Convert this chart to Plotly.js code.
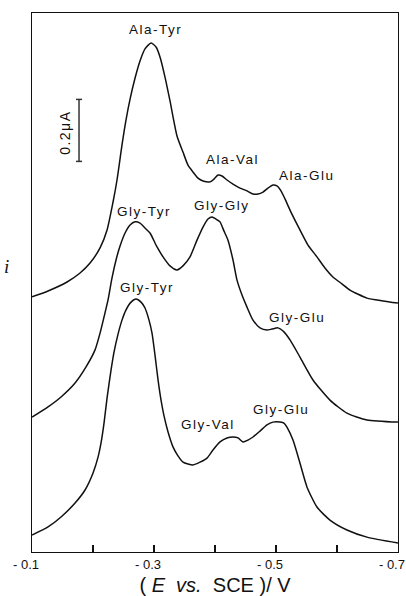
<!DOCTYPE html>
<html>
<head>
<meta charset="utf-8">
<script src="https://cdn.plot.ly/plotly-3.0.1.min.js"></script>
<style>
  html, body { margin: 0; padding: 0; background: #fff; }
  #chart { width: 406px; height: 596px; }
  .annotation-text { letter-spacing: 1.5px; }
</style>
</head>
<body>
<div id="chart"></div>
<script>
// Potential E (V vs. SCE) and current i (μA, curves offset vertically)
const alaE = [-0.1, -0.1262, -0.1574, -0.1787, -0.1951, -0.2115, -0.2230, -0.2328, -0.2393, -0.2475, -0.2541, -0.2607, -0.2689, -0.2770, -0.2852, -0.2951, -0.3033, -0.3098, -0.3180, -0.3262, -0.3377, -0.3475, -0.3557, -0.3639, -0.3721, -0.3803, -0.3918, -0.3984, -0.4049, -0.4115, -0.4197, -0.4295, -0.4410, -0.4525, -0.4623, -0.4705, -0.4787, -0.4869, -0.4951, -0.5016, -0.5082, -0.5148, -0.5230, -0.5393, -0.5525, -0.5672, -0.5803, -0.5934, -0.6082, -0.6213, -0.6492, -0.6754, -0.7];
const alaI = [0.823, 0.842, 0.871, 0.900, 0.932, 0.981, 1.039, 1.129, 1.200, 1.313, 1.394, 1.461, 1.529, 1.584, 1.623, 1.642, 1.629, 1.597, 1.532, 1.455, 1.342, 1.290, 1.248, 1.226, 1.206, 1.197, 1.194, 1.203, 1.216, 1.213, 1.200, 1.187, 1.174, 1.165, 1.155, 1.155, 1.161, 1.174, 1.184, 1.181, 1.165, 1.139, 1.103, 1.039, 0.990, 0.952, 0.916, 0.887, 0.865, 0.845, 0.819, 0.810, 0.803];

const glyE = [-0.1, -0.1262, -0.1475, -0.1705, -0.1885, -0.2033, -0.2115, -0.2180, -0.2246, -0.2311, -0.2377, -0.2443, -0.2525, -0.2607, -0.2689, -0.2770, -0.2852, -0.2934, -0.3049, -0.3148, -0.3262, -0.3377, -0.3475, -0.3590, -0.3705, -0.3803, -0.3885, -0.3951, -0.4016, -0.4082, -0.4148, -0.4213, -0.4295, -0.4361, -0.4443, -0.4525, -0.4623, -0.4738, -0.4852, -0.4934, -0.5033, -0.5131, -0.5230, -0.5393, -0.5607, -0.5885, -0.6164, -0.6492, -0.7];
const glyI = [0.435, 0.468, 0.500, 0.545, 0.597, 0.652, 0.706, 0.758, 0.813, 0.884, 0.942, 0.987, 1.029, 1.055, 1.065, 1.061, 1.045, 1.029, 0.984, 0.952, 0.923, 0.910, 0.923, 0.952, 1.006, 1.048, 1.074, 1.081, 1.074, 1.065, 1.035, 1.006, 0.942, 0.877, 0.829, 0.790, 0.748, 0.723, 0.716, 0.719, 0.723, 0.710, 0.684, 0.629, 0.555, 0.490, 0.448, 0.426, 0.419];

const mixE = [-0.1, -0.1262, -0.1475, -0.1705, -0.1869, -0.2000, -0.2082, -0.2131, -0.2180, -0.2230, -0.2295, -0.2344, -0.2410, -0.2475, -0.2541, -0.2623, -0.2705, -0.2787, -0.2852, -0.2918, -0.2967, -0.3016, -0.3066, -0.3115, -0.3164, -0.3230, -0.3311, -0.3393, -0.3475, -0.3557, -0.3639, -0.3754, -0.3869, -0.3967, -0.4082, -0.4197, -0.4295, -0.4377, -0.4459, -0.4541, -0.4623, -0.4738, -0.4852, -0.4951, -0.5066, -0.5131, -0.5180, -0.5279, -0.5393, -0.5508, -0.5672, -0.5885, -0.6164, -0.6492, -0.7];
const mixI = [0.055, 0.081, 0.113, 0.158, 0.200, 0.255, 0.306, 0.352, 0.416, 0.497, 0.587, 0.645, 0.703, 0.748, 0.781, 0.806, 0.816, 0.806, 0.787, 0.748, 0.706, 0.635, 0.555, 0.490, 0.439, 0.387, 0.339, 0.310, 0.290, 0.284, 0.281, 0.290, 0.303, 0.329, 0.355, 0.368, 0.371, 0.368, 0.355, 0.361, 0.371, 0.390, 0.410, 0.419, 0.419, 0.416, 0.403, 0.361, 0.287, 0.210, 0.145, 0.103, 0.071, 0.048, 0.029];

// Peak labels: text, E, i
const labelText = ["Ala-Tyr", "Ala-Val", "Ala-Glu", "Gly-Tyr", "Gly-Gly", "Gly-Glu", "Gly-Tyr", "Gly-Val", "Gly-Glu"];
const labelE = [-0.3016, -0.4295, -0.5508, -0.2836, -0.4115, -0.5344, -0.2885, -0.3885, -0.5082];
const labelI = [1.684, 1.265, 1.216, 1.097, 1.119, 0.755, 0.852, 0.410, 0.461];

const tickVals = [-0.1, -0.2, -0.3, -0.4, -0.5, -0.6, -0.7];
const tickText = ["- 0.1", "", "- 0.3", "", "- 0.5", "", "- 0.7"];

// Scale bar: 0.2 μA
const scaleE = -0.177;
const scaleLow = 1.26;
const scaleHigh = 1.46;

const lineStyle = {color: '#111', width: 1.5, shape: 'spline', smoothing: 0.6};
const traces = [
  {x: alaE, y: alaI, type: 'scatter', mode: 'lines', line: lineStyle, hoverinfo: 'skip'},
  {x: glyE, y: glyI, type: 'scatter', mode: 'lines', line: lineStyle, hoverinfo: 'skip'},
  {x: mixE, y: mixI, type: 'scatter', mode: 'lines', line: lineStyle, hoverinfo: 'skip'}
];

const fontFam = 'Liberation Sans, Arial, sans-serif';
const annotations = labelText.map((t, k) => ({
  x: labelE[k], y: labelI[k], xref: 'x', yref: 'y', text: t, showarrow: false,
  font: {family: fontFam, size: 13.5, color: '#111'}, xanchor: 'center', yanchor: 'middle'
}));
annotations.push({
  x: scaleE + 0.023, y: 1.352, xref: 'x', yref: 'y', text: '0.2μA', textangle: -90,
  showarrow: false, font: {family: fontFam, size: 14, color: '#111'}, xanchor: 'center', yanchor: 'middle'
});
annotations.push({
  x: -0.066, y: 0.529, xref: 'paper', yref: 'paper', text: '<i>i</i>', showarrow: false,
  font: {family: 'Liberation Serif, serif', size: 19, color: '#111'}, xanchor: 'center', yanchor: 'middle'
});

const shapes = [
  {type: 'line', xref: 'x', yref: 'y', x0: scaleE, x1: scaleE, y0: scaleLow, y1: scaleHigh, line: {color: '#333', width: 1.5}},
  {type: 'line', xref: 'x', yref: 'y', x0: scaleE - 0.005, x1: scaleE + 0.005, y0: scaleLow, y1: scaleLow, line: {color: '#333', width: 1.5}},
  {type: 'line', xref: 'x', yref: 'y', x0: scaleE - 0.005, x1: scaleE + 0.005, y0: scaleHigh, y1: scaleHigh, line: {color: '#333', width: 1.5}}
];

const layout = {
  width: 406, height: 596,
  margin: {l: 32, r: 8, t: 13, b: 44, pad: 0},
  paper_bgcolor: '#fff', plot_bgcolor: '#fff',
  showlegend: false,
  font: {family: fontFam, color: '#111'},
  xaxis: {
    range: [-0.0999, -0.7001], tickvals: tickVals, ticktext: tickText,
    ticks: 'inside', ticklen: 7, tickwidth: 1.3, tickcolor: '#111',
    ticklabeloverflow: 'allow', ticklabelshift: 6,
    showline: true, linecolor: '#111', linewidth: 1.3, mirror: true,
    showgrid: false, zeroline: false,
    tickfont: {family: fontFam, size: 13, color: '#111'},
    title: {text: '( <i>E</i>  <i>vs.</i>  SCE )/ V', font: {family: fontFam, size: 20, color: '#111'}, standoff: 9}
  },
  yaxis: {
    range: [0, 1.7387], showticklabels: false, ticks: '',
    showline: true, linecolor: '#111', linewidth: 1.3, mirror: true,
    showgrid: false, zeroline: false
  },
  annotations: annotations,
  shapes: shapes
};

Plotly.newPlot('chart', traces, layout, {displayModeBar: false, staticPlot: true});
</script>
</body>
</html>
